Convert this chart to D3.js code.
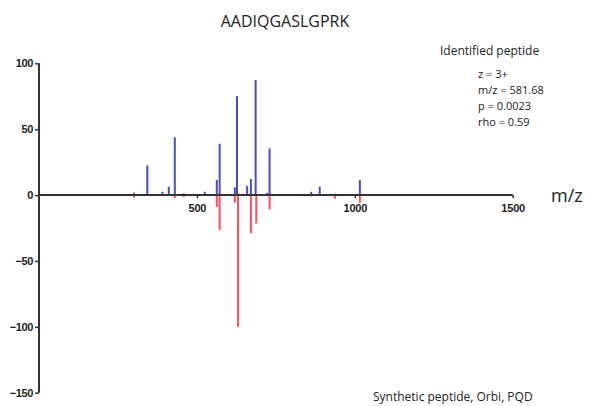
<!DOCTYPE html>
<html>
<head>
<meta charset="utf-8">
<script src="https://cdn.jsdelivr.net/npm/d3@7"></script>
<style>
  html, body { margin: 0; padding: 0; background: #fff; }
  svg { display: block; }
</style>
</head>
<body>
<svg id="chart" width="596" height="406"></svg>
<script>
// Identified spectrum (upward, blue): m/z positions and relative intensities
const identifiedMz = [301, 343, 391, 411, 430, 458, 525, 563, 572, 620, 627, 635, 659, 671, 686, 722, 730, 736, 862, 889, 937, 1016];
const identifiedInt = [1.8, 22.5, 2.5, 6.3, 43.8, 1.3, 2.5, 11.4, 39, 5.8, 75, 1, 6.8, 12.2, 87.3, 1.7, 35.4, 1, 2.5, 6.3, 1, 11.4];

// Synthetic spectrum (downward, red): m/z positions and negated intensities
const syntheticMz = [301, 430, 458, 563, 572, 620, 630, 671, 688, 730, 840, 862, 937, 1016];
const syntheticInt = [-2, -2.3, -1.5, -9, -26.6, -5.8, -100, -29, -21.5, -10.9, -1, -1, -2.8, -5.8];

const xTicks = [500, 1000, 1500];
const yTicks = [100, 50, 0, -50, -100, -150];

const infoLines = ["z = 3+", "m/z = 581.68", "p = 0.0023", "rho = 0.59"];

const svg = d3.select("#chart");

const x = d3.scaleLinear().domain([0, 1500]).range([39, 512.7]);
const y = d3.scaleLinear().domain([-150, 100]).range([392.7, 63.3]);

const axisColor = "#333";
const tickFont = "Arial, 'Liberation Sans', sans-serif";

// Peaks as vertical stems from zero
function drawStems(mz, vals, color) {
  svg.append("g")
    .selectAll("line")
    .data(mz.map((m, i) => ({ m, v: vals[i] })))
    .join("line")
    .attr("x1", d => x(d.m))
    .attr("x2", d => x(d.m))
    .attr("y1", y(0))
    .attr("y2", d => y(d.v))
    .attr("stroke", color)
    .attr("stroke-width", 2);
}
drawStems(syntheticMz, syntheticInt, "#ff4d5e");
drawStems(identifiedMz, identifiedInt, "#4d4db8");

// Y axis
const yAxis = d3.axisLeft(y).tickValues(yTicks).tickSize(4).tickPadding(2).tickFormat(d3.format("d"));
const gy = svg.append("g").attr("transform", `translate(${x(0)},0)`).call(yAxis);
gy.select(".domain").attr("stroke", axisColor).attr("stroke-width", 2).attr("d", `M0,${y(100)}V${y(-150)}`);
gy.selectAll(".tick line").attr("stroke", axisColor).attr("stroke-width", 1.5);
gy.selectAll(".tick text")
  .attr("fill", "#222").attr("font-family", tickFont).attr("font-size", 11).attr("font-weight", "bold")
  .attr("letter-spacing", "-0.4");

// X axis along zero
const xAxis = d3.axisBottom(x).tickValues(xTicks).tickSize(3).tickPadding(6).tickFormat(d3.format("d"));
const gx = svg.append("g").attr("transform", `translate(0,${y(0)})`).call(xAxis);
gx.select(".domain").attr("stroke", axisColor).attr("stroke-width", 2).attr("d", `M${x(0)},0H${x(1500)}`);
gx.selectAll(".tick line").attr("stroke", axisColor).attr("stroke-width", 1.5);
gx.selectAll(".tick text")
  .attr("fill", "#222").attr("font-family", tickFont).attr("font-size", 11).attr("font-weight", "bold")
  .attr("letter-spacing", "-0.2");

const textFont = "'Open Sans', 'Noto Sans', sans-serif";

// Title
svg.append("text")
  .attr("x", 285).attr("y", 27)
  .attr("text-anchor", "middle")
  .attr("font-family", textFont).attr("font-size", 16).attr("fill", "#222")
  .text("AADIQGASLGPRK");

// Axis label
svg.append("text")
  .attr("x", 551).attr("y", 202)
  .attr("font-family", textFont).attr("font-size", 18).attr("fill", "#222")
  .text("m/z");

// Info block
svg.append("text")
  .attr("x", 440).attr("y", 55)
  .attr("font-family", textFont).attr("font-size", 12).attr("fill", "#222")
  .text("Identified peptide");

svg.append("g")
  .selectAll("text")
  .data(infoLines)
  .join("text")
  .attr("x", 478)
  .attr("y", (d, i) => 78 + i * 16)
  .attr("font-family", textFont).attr("font-size", 11).attr("fill", "#222")
  .text(d => d);

svg.append("text")
  .attr("x", 373).attr("y", 401)
  .attr("font-family", textFont).attr("font-size", 12).attr("fill", "#222")
  .text("Synthetic peptide, Orbi, PQD");
</script>
</body>
</html>
